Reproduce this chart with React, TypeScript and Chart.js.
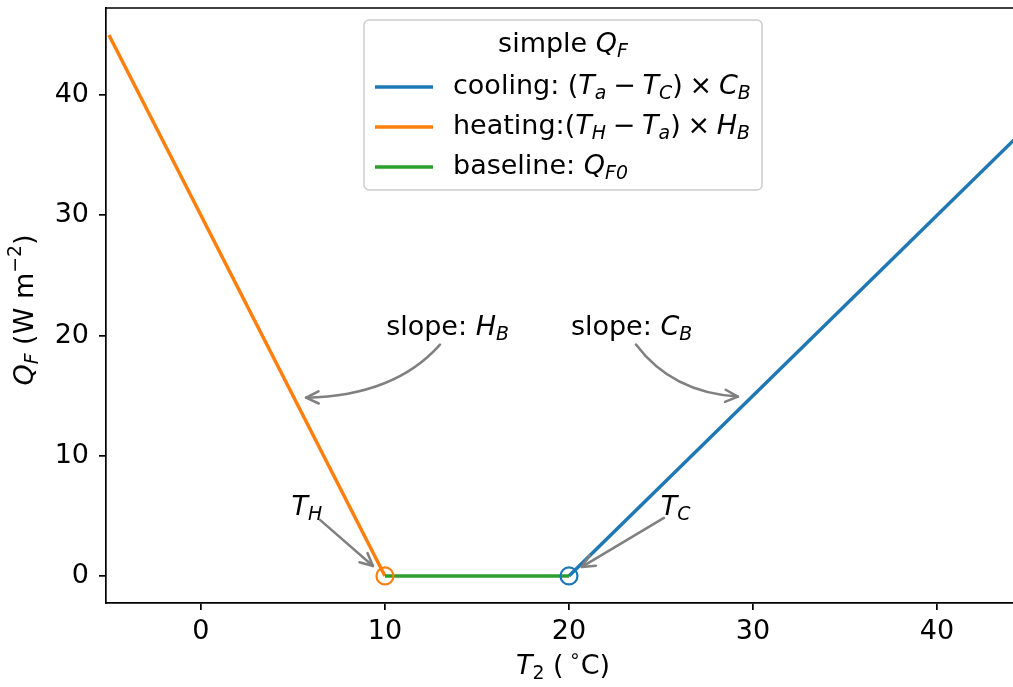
import React, { useEffect, useRef } from "react";
import { Chart, registerables } from "chart.js";

Chart.register(...registerables);

// ---- data ----
const coolX = [20, 45];
const coolY = [0, 37.5];
const heatX = [-5, 10];
const heatY = [45, 0];
const baseX = [10, 20];
const baseY = [0, 0];
const threshX = [10, 20]; // T_H, T_C
const threshY = [0, 0];
const xTicks = [0, 10, 20, 30, 40];
const yTicks = [0, 10, 20, 30, 40];
const xRange = [-5.16, 44.13];
const yRange = [-2.25, 47.25];

const BLUE = "#1f77b4";
const ORANGE = "#ff7f0e";
const GREEN = "#2ca02c";
const GREY = "#808080";
const FONT = '"DejaVu Sans"';
const FS = 27;

type Seg = { t: string; it?: boolean; sub?: boolean; sup?: boolean };

function segFont(s: Seg, size: number) {
  const sz = s.sub || s.sup ? size * 0.7 : size;
  return `${s.it ? "italic " : ""}${sz}px ${FONT}`;
}
function richWidth(ctx: CanvasRenderingContext2D, segs: Seg[], size: number) {
  let w = 0;
  for (const s of segs) {
    ctx.font = segFont(s, size);
    w += ctx.measureText(s.t).width;
  }
  return w;
}
function drawRich(
  ctx: CanvasRenderingContext2D,
  segs: Seg[],
  x: number,
  y: number,
  size: number,
  align: "left" | "center"
) {
  const w = richWidth(ctx, segs, size);
  let cx = align === "center" ? x - w / 2 : x;
  ctx.textBaseline = "middle";
  ctx.textAlign = "left";
  for (const s of segs) {
    ctx.font = segFont(s, size);
    const dy = s.sub ? size * 0.28 : s.sup ? -size * 0.38 : 0;
    ctx.fillText(s.t, cx, y + dy);
    cx += ctx.measureText(s.t).width;
  }
}

const SP = "\u2005";
const legendTitle: Seg[] = [{ t: "simple " }, { t: "Q", it: true }, { t: "F", it: true, sub: true }];
const legendItems: { color: string; segs: Seg[] }[] = [
  {
    color: BLUE,
    segs: [
      { t: "cooling: (" },
      { t: "T", it: true },
      { t: "a", it: true, sub: true },
      { t: SP + "\u2212" + SP },
      { t: "T", it: true },
      { t: "C", it: true, sub: true },
      { t: ")" + SP + "\u00d7" + SP },
      { t: "C", it: true },
      { t: "B", it: true, sub: true },
    ],
  },
  {
    color: ORANGE,
    segs: [
      { t: "heating:(" },
      { t: "T", it: true },
      { t: "H", it: true, sub: true },
      { t: SP + "\u2212" + SP },
      { t: "T", it: true },
      { t: "a", it: true, sub: true },
      { t: ")" + SP + "\u00d7" + SP },
      { t: "H", it: true },
      { t: "B", it: true, sub: true },
    ],
  },
  {
    color: GREEN,
    segs: [{ t: "baseline: " }, { t: "Q", it: true }, { t: "F0", it: true, sub: true }],
  },
];

// annotations in data coordinates
const curvedNotes = [
  { segs: [{ t: "slope: " }, { t: "H", it: true }, { t: "B", it: true, sub: true }] as Seg[], text: [13.4, 20.67], from: [12.99, 19.25], ctrl: [10.54, 15.0], to: [5.71, 14.83] },
  { segs: [{ t: "slope: " }, { t: "C", it: true }, { t: "B", it: true, sub: true }] as Seg[], text: [23.4, 20.67], from: [23.64, 19.25], ctrl: [25.6, 15.25], to: [29.18, 14.92] },
];
const straightNotes = [
  { segs: [{ t: "T", it: true }, { t: "H", it: true, sub: true }] as Seg[], text: [5.76, 5.67], from: [6.47, 4.67], to: [9.35, 0.83] },
  { segs: [{ t: "T", it: true }, { t: "C", it: true, sub: true }] as Seg[], text: [25.8, 5.67], from: [25.16, 4.83], to: [20.7, 0.75] },
];

function arrowHead(ctx: CanvasRenderingContext2D, tx: number, ty: number, dx: number, dy: number) {
  const ang = Math.atan2(dy, dx);
  const L = 14;
  const a = 0.45;
  ctx.beginPath();
  ctx.moveTo(tx - L * Math.cos(ang - a), ty - L * Math.sin(ang - a));
  ctx.lineTo(tx, ty);
  ctx.lineTo(tx - L * Math.cos(ang + a), ty - L * Math.sin(ang + a));
  ctx.stroke();
}

const decorPlugin = {
  id: "decor",
  afterDatasetsDraw(chart: any) {
    const ctx: CanvasRenderingContext2D = chart.ctx;
    const xs = chart.scales.x;
    const ys = chart.scales.y;
    const ca = chart.chartArea;
    const px = (v: number) => xs.getPixelForValue(v);
    const py = (v: number) => ys.getPixelForValue(v);
    ctx.save();
    // top spine
    ctx.strokeStyle = "#000";
    ctx.lineWidth = 1.7;
    ctx.beginPath();
    ctx.moveTo(ca.left, ca.top);
    ctx.lineTo(ca.right, ca.top);
    ctx.stroke();

    // annotations
    ctx.fillStyle = "#000";
    ctx.strokeStyle = GREY;
    ctx.lineWidth = 2.5;
    ctx.lineCap = "round";
    ctx.lineJoin = "round";
    for (const n of curvedNotes) {
      drawRich(ctx, n.segs, px(n.text[0]), py(n.text[1]), FS, "center");
      const [fx, fy] = [px(n.from[0]), py(n.from[1])];
      const [cx, cy] = [px(n.ctrl[0]), py(n.ctrl[1])];
      const [tx, ty] = [px(n.to[0]), py(n.to[1])];
      ctx.beginPath();
      ctx.moveTo(fx, fy);
      ctx.quadraticCurveTo(cx, cy, tx, ty);
      ctx.stroke();
      arrowHead(ctx, tx, ty, tx - cx, ty - cy);
    }
    for (const n of straightNotes) {
      drawRich(ctx, n.segs, px(n.text[0]), py(n.text[1]), FS, "center");
      const [fx, fy] = [px(n.from[0]), py(n.from[1])];
      const [tx, ty] = [px(n.to[0]), py(n.to[1])];
      ctx.beginPath();
      ctx.moveTo(fx, fy);
      ctx.lineTo(tx, ty);
      ctx.stroke();
      arrowHead(ctx, tx, ty, tx - fx, ty - fy);
    }

    // legend
    const lx = 364, ly = 20, lw = 398, lh = 170;
    ctx.fillStyle = "rgba(255,255,255,0.8)";
    ctx.strokeStyle = "#cccccc";
    ctx.lineWidth = 1.5;
    ctx.beginPath();
    (ctx as any).roundRect(lx, ly, lw, lh, 5);
    ctx.fill();
    ctx.stroke();
    ctx.fillStyle = "#000";
    drawRich(ctx, legendTitle, lx + lw / 2, 45, FS, "center");
    legendItems.forEach((it, i) => {
      const yy = 87 + i * 40;
      ctx.strokeStyle = it.color;
      ctx.lineWidth = 3.5;
      ctx.lineCap = "butt";
      ctx.beginPath();
      ctx.moveTo(375, yy);
      ctx.lineTo(433, yy);
      ctx.stroke();
      ctx.fillStyle = "#000";
      drawRich(ctx, it.segs, 453, yy, FS, "left");
    });

    // axis titles
    ctx.fillStyle = "#000";
    drawRich(
      ctx,
      [{ t: "T", it: true }, { t: "2", sub: true }, { t: " (\u2009" }, { t: "\u2218", sup: true }, { t: "C)" }],
      563,
      667,
      FS,
      "center"
    );
    ctx.translate(26, 310);
    ctx.rotate(-Math.PI / 2);
    drawRich(
      ctx,
      [{ t: "Q", it: true }, { t: "F", it: true, sub: true }, { t: " (W m" }, { t: "\u22122", sup: true }, { t: ")" }],
      0,
      0,
      FS,
      "center"
    );
    ctx.restore();
  },
};

const zeroPad = (s: any) => {
  s.paddingTop = 0;
  s.paddingBottom = 0;
  s.paddingLeft = 0;
  s.paddingRight = 0;
};

export default function App() {
  const ref = useRef<HTMLCanvasElement>(null);
  useEffect(() => {
    if (!ref.current) return;
    const mk = (xa: number[], ya: number[]) => xa.map((x, i) => ({ x, y: ya[i] }));
    const chart = new Chart(ref.current, {
      type: "scatter",
      data: {
        datasets: [
          { label: "cooling", data: mk(coolX, coolY), showLine: true, borderColor: BLUE, borderWidth: 3.5, pointRadius: 0, order: 5 },
          { label: "heating", data: mk(heatX, heatY), showLine: true, borderColor: ORANGE, borderWidth: 3.5, pointRadius: 0, order: 4 },
          { label: "baseline", data: mk(baseX, baseY), showLine: true, borderColor: GREEN, borderWidth: 3.5, pointRadius: 0, order: 3 },
          {
            label: "thresholds",
            data: mk(threshX, threshY),
            showLine: false,
            pointRadius: 8.5,
            pointBorderWidth: 2.2,
            pointBackgroundColor: "rgba(0,0,0,0)",
            pointBorderColor: [ORANGE, BLUE],
            order: 1,
          },
        ],
      },
      options: {
        animation: false,
        responsive: false,
        events: [],
        layout: { autoPadding: false, padding: { left: 0, top: 8, right: 0, bottom: 0 } },
        plugins: { legend: { display: false }, tooltip: { enabled: false } },
        scales: {
          x: {
            type: "linear",
            min: xRange[0],
            max: xRange[1],
            afterBuildTicks: (s: any) => { s.ticks = xTicks.map((v) => ({ value: v })); },
            afterFit: (s: any) => { s.height = 84; zeroPad(s); },
            ticks: { font: { family: "DejaVu Sans", size: FS }, color: "#000", maxRotation: 0, autoSkip: false, padding: 6 },
            grid: { drawOnChartArea: false, drawTicks: true, tickLength: 7, color: "#000", lineWidth: 1.7 },
            border: { display: true, color: "#000", width: 1.7 },
          },
          y: {
            type: "linear",
            min: yRange[0],
            max: yRange[1],
            afterBuildTicks: (s: any) => { s.ticks = yTicks.map((v) => ({ value: v })); },
            afterFit: (s: any) => { s.width = 106; zeroPad(s); },
            ticks: { font: { family: "DejaVu Sans", size: FS }, color: "#000", padding: 10 },
            grid: { drawOnChartArea: false, drawTicks: true, tickLength: 7, color: "#000", lineWidth: 1.7 },
            border: { display: true, color: "#000", width: 1.7 },
          },
        },
      },
      plugins: [decorPlugin],
    });
    return () => chart.destroy();
  }, []);
  return (
    <div style={{ position: "absolute", left: 0, top: 0, width: 1013, height: 687, background: "#fff" }}>
      <canvas ref={ref} width={1013} height={687} />
    </div>
  );
}
